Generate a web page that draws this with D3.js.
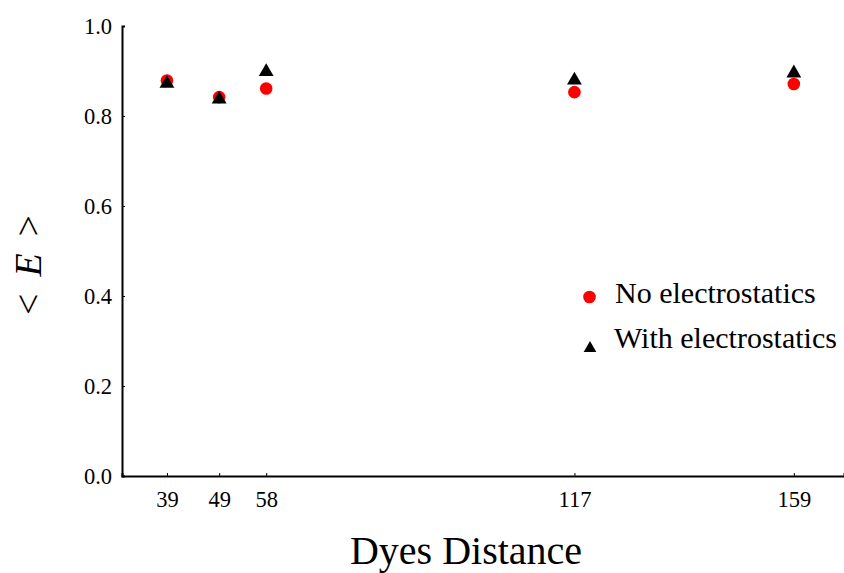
<!DOCTYPE html>
<html>
<head>
<meta charset="utf-8">
<script src="https://cdn.jsdelivr.net/npm/d3@7"></script>
<style>
  body { margin: 0; background: #fff; }
</style>
</head>
<body>
<div id="chart"></div>
<script>
// ── Data ────────────────────────────────────────────────────
const distances = [39, 49, 58, 117, 159];
const noElectro = [0.879, 0.842, 0.861, 0.853, 0.871];
const withElectro = [0.877, 0.842, 0.903, 0.884, 0.900];
const yTicks = [0.0, 0.2, 0.4, 0.6, 0.8, 1.0];
const seriesNames = ['No electrostatics', 'With electrostatics'];

const SERIF = '"Liberation Serif"';
const width = 844, height = 573;
const plotLeft = 122, plotBottom = 476, plotTop = 26, plotRight = 844;

const svg = d3.select('#chart').append('svg')
  .attr('width', width)
  .attr('height', height);

const x = d3.scaleLinear().domain([30.4, 168.6]).range([plotLeft, plotRight]);
const y = d3.scaleLinear().domain([0, 1]).range([plotBottom, plotTop]);

// triangle centred on its bounding box (like a matplotlib '^' marker)
const triangleBox = {
  draw(ctx, size) {
    const s = Math.sqrt(size * 4 / Math.sqrt(3));
    const h = s * Math.sqrt(3) / 2;
    ctx.moveTo(0, -h / 2);
    ctx.lineTo(s / 2, h / 2);
    ctx.lineTo(-s / 2, h / 2);
    ctx.closePath();
  }
};

// ── Axes ────────────────────────────────────────────────────
const xAxis = svg.append('g')
  .attr('transform', `translate(0,${plotBottom})`)
  .call(d3.axisBottom(x).tickValues(distances).tickSize(-3).tickPadding(15.5).tickFormat(d3.format('d')));
const yAxis = svg.append('g')
  .attr('transform', `translate(${plotLeft},0)`)
  .call(d3.axisLeft(y).tickValues(yTicks).tickSize(-3).tickPadding(10).tickFormat(d3.format('.1f')));

[xAxis, yAxis].forEach(g => {
  g.attr('font-family', null);
  g.select('.domain').attr('stroke', '#000').attr('stroke-width', 2);
  g.selectAll('.tick line').attr('stroke', '#000').attr('stroke-width', 1);
  g.selectAll('.tick text')
    .style('font-family', SERIF)
    .style('font-size', '22.5px')
    .attr('fill', '#000');
});
yAxis.selectAll('.tick text').attr('dy', '0.35em');

// ── Axis labels ─────────────────────────────────────────────
svg.append('text')
  .attr('x', 466).attr('y', 564)
  .attr('text-anchor', 'middle')
  .style('font-family', SERIF)
  .style('font-size', '40px')
  .text('Dyes Distance');

const yl = svg.append('text')
  .attr('transform', 'translate(41,265) rotate(-90)')
  .attr('text-anchor', 'middle')
  .style('font-family', SERIF)
  .style('font-size', '38px');
yl.append('tspan').text('<');
yl.append('tspan').attr('dx', 17).style('font-style', 'italic').text('E');
yl.append('tspan').attr('dx', 17).text('>');

// ── Points ──────────────────────────────────────────────────
const tri = d3.symbol().type(triangleBox).size(95);

svg.append('g').selectAll('circle')
  .data(distances)
  .join('circle')
  .attr('cx', d => x(d))
  .attr('cy', (d, i) => y(noElectro[i]))
  .attr('r', 6.3)
  .attr('fill', '#ff0000');

svg.append('g').selectAll('path')
  .data(distances)
  .join('path')
  .attr('d', tri)
  .attr('transform', (d, i) => `translate(${x(d)},${y(withElectro[i])})`)
  .attr('fill', '#000');

// ── Legend ──────────────────────────────────────────────────
const legend = svg.append('g');
legend.append('circle').attr('cx', 589.5).attr('cy', 297).attr('r', 6.3).attr('fill', '#ff0000');
legend.append('path').attr('d', d3.symbol().type(triangleBox).size(70))
  .attr('transform', 'translate(590,346.5)').attr('fill', '#000');
legend.append('text').attr('x', 615).attr('y', 303)
  .style('font-family', SERIF).style('font-size', '30px').text(seriesNames[0]);
legend.append('text').attr('x', 614).attr('y', 348)
  .style('font-family', SERIF).style('font-size', '30px').text(seriesNames[1]);
</script>
</body>
</html>
